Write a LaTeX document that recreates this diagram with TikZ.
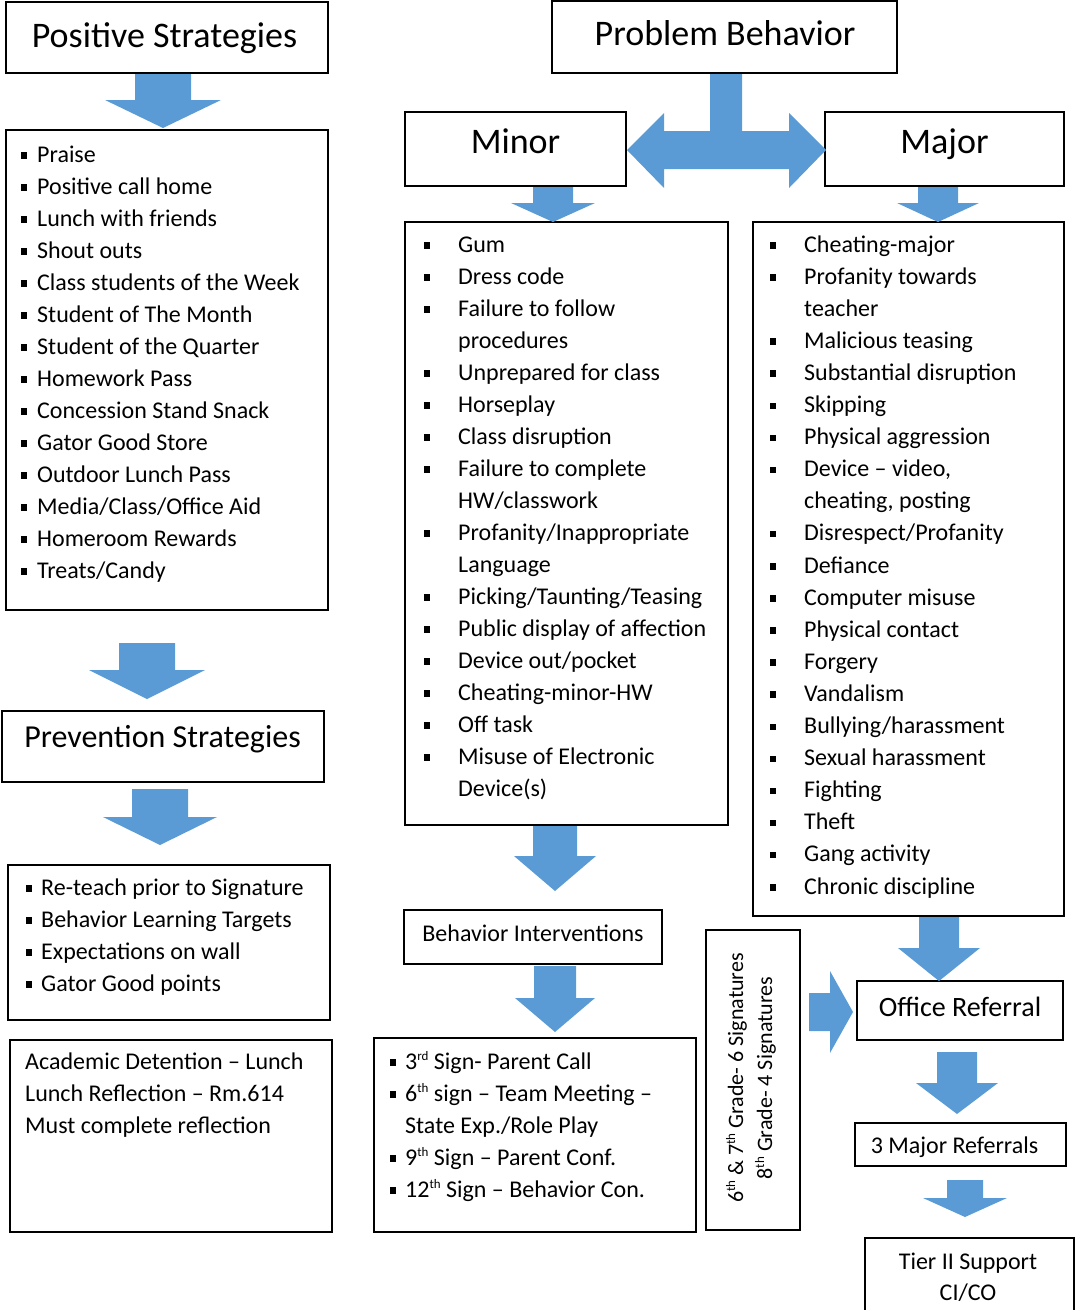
\documentclass[tikz,border=0pt]{standalone}
\usepackage{fontspec}
\setmainfont{Carlito}
\definecolor{ablue}{HTML}{5B9BD5}
\newcommand\pbox[5]{%
  \pgfmathsetmacro\bw{#4-#2}\pgfmathsetmacro\bh{#5-#3}%
  \node[box,minimum width=\bw pt,minimum height=\bh pt] (#1) at ({(#2+#4)/2},{(#3+#5)/2}) {};}
\newcommand\darr[6]{%
  \fill[ablue] ({#1-#5},#2) -- ({#1+#5},#2) -- ({#1+#5},#3) -- ({#1+#6},#3) -- (#1,#4)
    -- ({#1-#6},#3) -- ({#1-#5},#3) -- cycle;}
\newcommand\bul[2]{\fill ({#1-3},{#2-10}) rectangle ({#1+3},{#2-3.5});}
\newcommand\sups[1]{\raisebox{0.36em}{\fontsize{13}{13}\selectfont #1}}
\tikzset{
  box/.style={draw=black,line width=1.4pt,fill=white,inner sep=0pt},
  item/.style={anchor=base west,inner sep=0pt,font=\fontsize{24}{32}\selectfont},
  ctext/.style={anchor=base,inner sep=0pt,font=\fontsize{24}{32}\selectfont},
  bigtitle/.style={anchor=base,inner sep=0pt,font=\fontsize{36}{40}\selectfont},
}
\begin{document}
\begin{tikzpicture}[x=1pt,y=-1pt]
\useasboundingbox (0,0) rectangle (1078,1310);
% ---------- boxes
\pbox{postitle}{6}{2}{328}{73}
\pbox{poslist}{6}{130}{328}{610}
\pbox{prevtitle}{2}{711}{324}{782}
\pbox{prevlist}{8}{865}{330}{1020}
\pbox{acad}{10}{1040}{332}{1232}
\pbox{problem}{552}{1}{897}{73}
\pbox{minor}{405}{112}{626}{186}
\pbox{major}{825}{112}{1064}{186}
\pbox{minorlist}{405}{222}{728}{825}
\pbox{majorlist}{753}{222}{1064}{916}
\pbox{behint}{404}{910}{662}{964}
\pbox{signs}{374}{1038}{696}{1232}
\pbox{grades}{706}{930}{800}{1230}
\pbox{office}{857}{981}{1063}{1040}
\pbox{threemaj}{855}{1123}{1066}{1166}
\pbox{tier}{865}{1238}{1074}{1316}
% ---------- block arrows
\darr{163}{74}{100}{128}{28}{58}
\darr{147}{643}{670}{699}{28}{58}
\darr{160}{789}{817}{845}{28}{57}
\darr{553}{187}{203}{222}{20}{42}
\darr{938}{187}{203}{222}{20}{41}
\darr{555}{826}{856}{891}{22}{41}
\darr{555}{966}{998}{1032}{21}{40}
\darr{939}{917}{948}{981}{20}{41}
\darr{957}{1052}{1083}{1114}{20}{41}
\darr{965}{1180}{1198}{1217}{18}{42}
\fill[ablue] (809,993) -- (830,993) -- (830,971) -- (853,1012) -- (830,1053) -- (830,1031) -- (809,1031) -- cycle;
\fill[ablue] (710,74) -- (742,74) -- (742,131) -- (789,131) -- (789,113) -- (826,150)
  -- (789,188) -- (789,169) -- (664,169) -- (664,188) -- (627,150) -- (664,113)
  -- (664,131) -- (710,131) -- cycle;
% ---------- titles
\node[bigtitle] (tpos) at (164.5,47) {Positive Strategies};
\node[bigtitle] (tprob) at (725,45) {Problem Behavior};
\node[bigtitle] (tminor) at (515.5,153) {Minor};
\node[bigtitle] (tmajor) at (944.5,153) {Major};
\node[anchor=base,inner sep=0pt,font=\fontsize{32}{36}\selectfont] (tprev) at (162.5,747) {Prevention Strategies};
\node[ctext] (tbeh) at (533,941) {Behavior Interventions};
\node[anchor=base,inner sep=0pt,font=\fontsize{28}{32}\selectfont] (toff) at (960,1016) {Office Referral};
\node[ctext] (tthree) at (954.5,1153) {3 Major Referrals};
\node[ctext] (ttier1) at (968,1269) {Tier II Support};
\node[ctext] (ttier2) at (968,1300) {CI/CO};
% ---------- positive list
\foreach \t [count=\i from 0] in {Praise,Positive call home,Lunch with friends,Shout outs,
  Class students of the Week,Student of The Month,Student of the Quarter,Homework Pass,
  Concession Stand Snack,Gator Good Store,Outdoor Lunch Pass,{Media/Class/Office Aid},
  Homeroom Rewards,{Treats/Candy}}{
  \pgfmathsetmacro\yy{162+32*\i}
  \bul{23.5}{\yy}
  \node[item] (pos\i) at (37,\yy) {\t};
}
% ---------- minor list
\foreach \b/\t [count=\i from 0] in {1/Gum,1/Dress code,1/Failure to follow,0/procedures,
  1/Unprepared for class,1/Horseplay,1/Class disruption,1/Failure to complete,
  0/{HW/classwork},1/{Profanity/Inappropriate},0/Language,1/{Picking/Taunting/Teasing},
  1/Public display of affection,1/{Device out/pocket},1/Cheating-minor-HW,1/Off task,
  1/Misuse of Electronic,0/Device(s)}{
  \pgfmathsetmacro\yy{252+32*\i}
  \ifnum\b=1 \bul{426.5}{\yy}\fi
  \node[item] (min\i) at (458,\yy) {\t};
}
% ---------- major list
\foreach \b/\t [count=\i from 0] in {1/Cheating-major,1/Profanity towards,0/teacher,
  1/Malicious teasing,1/Substantial disruption,1/Skipping,1/Physical aggression,
  1/{Device – video,},0/{cheating, posting},1/{Disrespect/Profanity},1/Defiance,
  1/Computer misuse,1/Physical contact,1/Forgery,1/Vandalism,1/{Bullying/harassment},
  1/Sexual harassment,1/Fighting,1/Theft,1/Gang activity,1/Chronic discipline}{
  \pgfmathsetmacro\yy{252+32.1*\i}
  \ifnum\b=1 \bul{773}{\yy}\fi
  \node[item] (maj\i) at (804,\yy) {\t};
}
% ---------- prevention list
\foreach \t [count=\i from 0] in {Re-teach prior to Signature,Behavior Learning Targets,
  Expectations on wall,Gator Good points}{
  \pgfmathsetmacro\yy{895+32*\i}
  \bul{28.5}{\yy}
  \node[item] (prev\i) at (41,\yy) {\t};
}
% ---------- academic detention
\node[item] (ac0) at (25,1069) {Academic Detention – Lunch};
\node[item] (ac1) at (25,1101) {Lunch Reflection – Rm.614};
\node[item] (ac2) at (25,1133) {Must complete reflection};
% ---------- signatures list
\bul{393}{1069}
\node[item] (sg0) at (405,1069) {3\sups{rd} Sign- Parent Call};
\bul{393}{1101}
\node[item] (sg1) at (405,1101) {6\sups{th} sign – Team Meeting –};
\node[item] (sg2) at (405,1133) {State Exp./Role Play};
\bul{393}{1165}
\node[item] (sg3) at (405,1165) {9\sups{th} Sign – Parent Conf.};
\bul{393}{1197}
\node[item] (sg4) at (405,1197) {12\sups{th} Sign – Behavior Con.};
% ---------- rotated grades text
\node[anchor=base,inner sep=0pt,rotate=90,font=\fontsize{22}{30}\selectfont] (gr1) at (743,1078)
  {6\sups{th} \& 7\sups{th} Grade- 6 Signatures};
\node[anchor=base,inner sep=0pt,rotate=90,font=\fontsize{22}{30}\selectfont] (gr2) at (772,1078)
  {8\sups{th} Grade- 4 Signatures};
\end{tikzpicture}
\end{document}
